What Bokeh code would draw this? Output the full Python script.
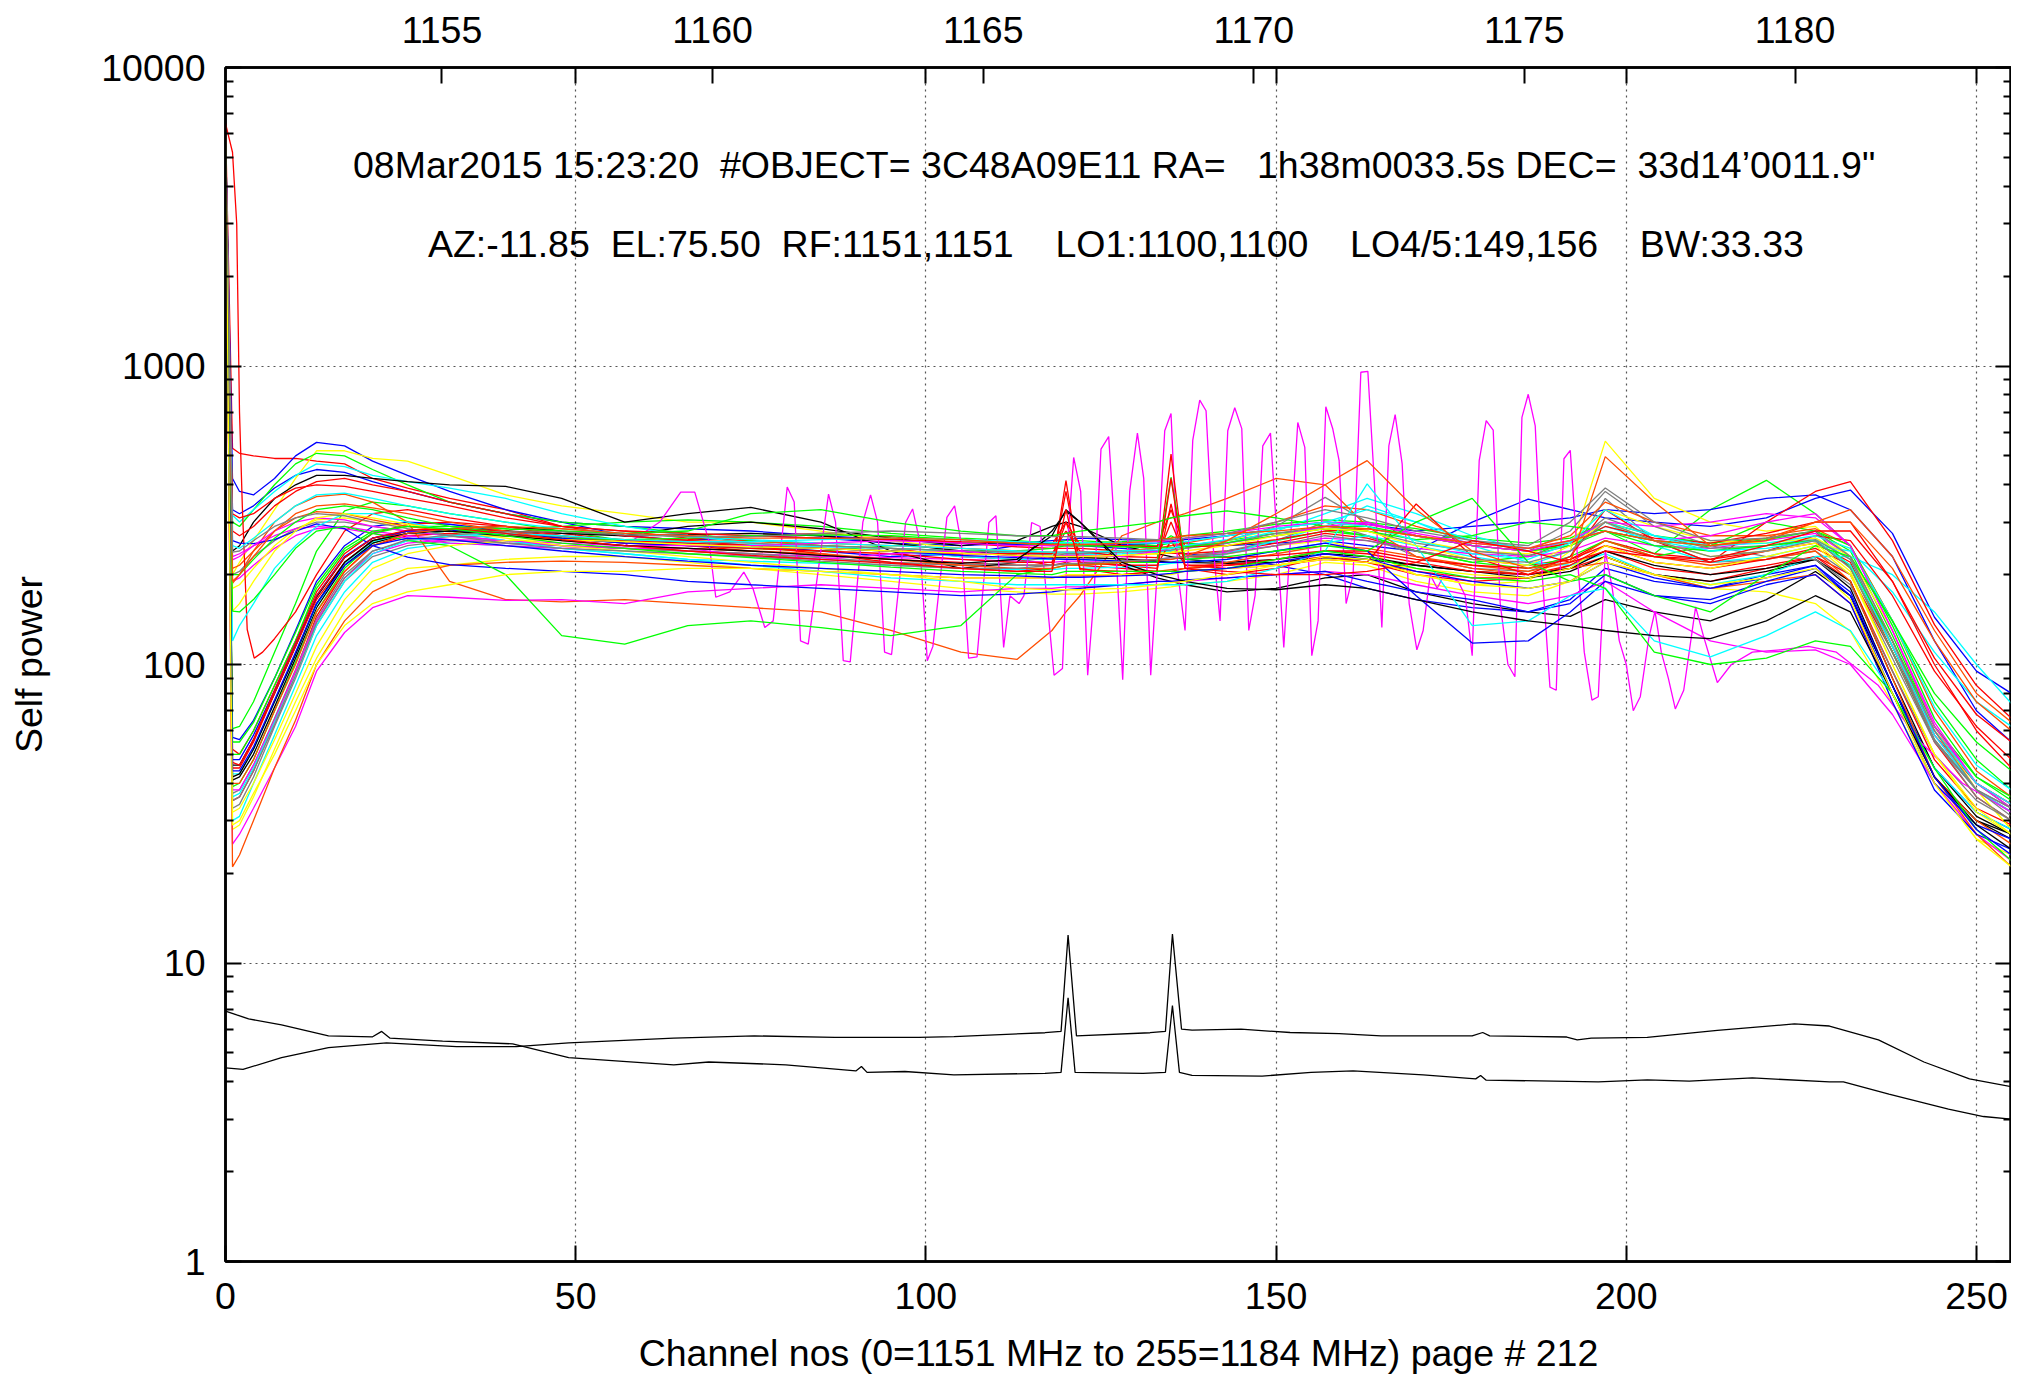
from bokeh.plotting import figure
from bokeh.models import Range1d, LinearAxis, LogAxis, FixedTicker, CustomJSTickFormatter, Label
from bokeh.embed import file_html
from bokeh.resources import INLINE

FONT = "Liberation Sans"
RED, GREEN, BLUE, MAGENTA = "#ff0000", "#00ff00", "#0000ff", "#ff00ff"
CYAN, YELLOW, BLACK, ORANGE, GRAY = "#00ffff", "#ffff00", "#000000", "#ff4d00", "#808080"

# channel sample points for the antenna spectra
CH = [0, 1, 2, 4, 7, 10, 13, 17, 21, 26, 32, 40, 48, 57, 66, 75, 85, 95, 105, 113,
      118, 120, 122, 128, 133, 135, 137, 143, 150, 157, 163, 170, 178, 186, 192,
      197, 204, 212, 220, 227, 232, 238, 244, 250, 255]

u1_red = [6500, 530, 510, 500, 490, 490, 480, 470, 420, 390, 360, 330, 290, 280, 265, 260, 250, 245, 230, 225, 215, 220, 215, 210, 205, 205, 210, 215, 220, 230, 220, 200, 190, 195, 210, 230, 200, 190, 210, 230, 200, 110, 58, 40, 34]
u2_blue = [6000, 420, 380, 370, 420, 500, 555, 540, 480, 430, 380, 330, 300, 270, 260, 250, 240, 230, 235, 250, 255, 250, 250, 245, 240, 240, 235, 230, 215, 200, 180, 165, 155, 150, 165, 210, 190, 180, 200, 215, 170, 85, 45, 32, 28]
u3_yellow = [5800, 200, 220, 260, 330, 420, 520, 520, 490, 480, 430, 370, 340, 320, 300, 300, 280, 260, 245, 240, 235, 230, 230, 225, 220, 220, 225, 235, 250, 260, 240, 200, 185, 190, 240, 560, 360, 300, 280, 290, 230, 120, 60, 38, 28]
u4_green = [5000, 300, 290, 330, 400, 470, 510, 500, 450, 400, 350, 320, 300, 290, 275, 260, 250, 245, 240, 240, 245, 250, 250, 250, 250, 270, 255, 250, 260, 280, 270, 240, 220, 210, 230, 260, 230, 250, 300, 280, 210, 110, 56, 38, 32]
u5_cyan = [6200, 316, 300, 330, 380, 430, 470, 460, 430, 410, 390, 360, 320, 290, 270, 255, 245, 240, 230, 225, 225, 225, 225, 222, 220, 220, 225, 235, 260, 290, 340, 300, 250, 220, 215, 235, 200, 185, 200, 230, 230, 200, 150, 100, 74]
u6_black = [6500, 240, 250, 300, 360, 400, 430, 430, 420, 410, 400, 395, 360, 300, 320, 336, 300, 240, 210, 220, 280, 325, 300, 215, 195, 190, 185, 175, 180, 195, 200, 175, 160, 150, 145, 165, 150, 140, 165, 205, 170, 85, 42, 30, 27]
u7_orange = [6000, 187, 200, 240, 300, 340, 365, 372, 350, 300, 190, 165, 162, 165, 160, 155, 150, 130, 110, 104, 130, 150, 170, 270, 300, 310, 320, 360, 420, 400, 290, 230, 210, 200, 210, 220, 200, 180, 190, 200, 160, 80, 42, 30, 25]
u8_gray = [6000, 200, 205, 230, 260, 285, 300, 300, 290, 280, 270, 260, 250, 245, 240, 235, 225, 220, 215, 220, 230, 235, 235, 240, 245, 250, 250, 260, 290, 363, 300, 270, 250, 240, 280, 380, 290, 250, 230, 225, 185, 95, 50, 35, 30]
u9_red = [6000, 280, 270, 290, 340, 380, 410, 420, 400, 380, 350, 320, 290, 270, 260, 250, 235, 220, 210, 205, 210, 413, 210, 200, 205, 507, 210, 200, 210, 230, 220, 345, 230, 200, 230, 330, 260, 220, 300, 380, 410, 260, 136, 85, 66]
u10_blue = [6000, 260, 255, 254, 262, 280, 296, 285, 250, 229, 216, 210, 205, 200, 190, 185, 180, 175, 170, 172, 175, 178, 180, 185, 190, 190, 192, 195, 200, 205, 190, 175, 165, 150, 160, 200, 170, 165, 190, 210, 170, 80, 40, 29, 26]
u11_magenta = [6200, 224, 230, 250, 280, 300, 310, 305, 290, 280, 270, 260, 250, 245, 245, 230, 225, 235, 240, 230, 230, 232, 232, 230, 240, 245, 250, 255, 270, 290, 300, 270, 250, 240, 260, 280, 260, 270, 300, 320, 250, 130, 62, 40, 34]
u12_cyan = [5500, 120, 135, 160, 210, 250, 290, 320, 320, 300, 280, 260, 245, 235, 225, 215, 205, 195, 190, 185, 185, 185, 185, 185, 185, 185, 185, 190, 210, 240, 403, 250, 135, 140, 170, 180, 120, 106, 125, 150, 130, 80, 45, 32, 28]
u13_yellow = [5500, 151, 160, 190, 240, 280, 310, 320, 310, 295, 280, 265, 250, 240, 230, 220, 210, 200, 195, 195, 195, 200, 200, 200, 200, 200, 205, 210, 215, 225, 220, 210, 200, 195, 210, 250, 220, 210, 230, 250, 200, 100, 50, 33, 27]
u14_green = [5200, 151, 150, 165, 200, 245, 280, 290, 275, 260, 250, 200, 125, 117, 135, 140, 133, 125, 135, 200, 210, 215, 215, 220, 220, 424, 225, 230, 240, 250, 240, 300, 360, 220, 190, 200, 170, 150, 200, 250, 230, 140, 80, 55, 44]
u15_orange = [6000, 190, 200, 230, 280, 320, 340, 345, 335, 320, 300, 280, 260, 250, 245, 240, 235, 225, 215, 210, 210, 215, 215, 220, 225, 225, 230, 260, 320, 400, 482, 330, 240, 210, 220, 497, 350, 250, 260, 300, 330, 230, 130, 80, 64]
u16_gray = [6000, 238, 240, 260, 290, 310, 320, 315, 300, 285, 270, 255, 245, 240, 235, 230, 222, 215, 210, 210, 215, 218, 218, 222, 225, 228, 230, 235, 250, 270, 260, 240, 225, 220, 240, 300, 260, 230, 240, 260, 210, 110, 56, 38, 33]

l1_green = [5500, 61, 62, 75, 110, 160, 240, 327, 350, 340, 320, 300, 280, 260, 250, 245, 240, 250, 255, 255, 255, 260, 260, 255, 250, 255, 250, 260, 275, 285, 270, 240, 220, 230, 260, 280, 235, 330, 414, 320, 250, 140, 75, 48, 38]
l2_blue = [6000, 57, 56, 65, 90, 130, 190, 250, 290, 300, 295, 280, 265, 255, 260, 270, 265, 255, 250, 255, 260, 262, 265, 262, 260, 258, 255, 250, 255, 260, 250, 240, 300, 358, 330, 310, 300, 290, 310, 360, 384, 275, 144, 95, 80]
l3_red = [6000, 52, 50, 60, 85, 120, 175, 235, 275, 295, 300, 290, 275, 260, 250, 240, 232, 225, 220, 215, 215, 380, 220, 215, 210, 345, 215, 210, 215, 225, 220, 205, 195, 195, 215, 240, 210, 200, 215, 230, 190, 95, 48, 33, 29]
l4_black = [6000, 41, 42, 50, 72, 105, 155, 215, 255, 275, 285, 290, 280, 270, 290, 300, 285, 265, 250, 260, 290, 300, 290, 250, 235, 230, 225, 220, 225, 235, 230, 215, 205, 195, 205, 230, 200, 190, 205, 225, 180, 85, 42, 30, 26]
l5_gray = [6000, 33, 34, 42, 62, 90, 135, 190, 230, 250, 260, 255, 250, 245, 240, 235, 228, 220, 215, 215, 215, 217, 217, 220, 222, 225, 230, 240, 260, 300, 270, 230, 210, 205, 230, 360, 260, 220, 225, 240, 200, 105, 55, 38, 33]
l6_cyan = [6000, 30, 31, 40, 58, 85, 125, 175, 220, 245, 255, 250, 245, 235, 225, 222, 218, 215, 210, 208, 208, 210, 210, 212, 215, 218, 220, 225, 240, 255, 270, 250, 230, 215, 240, 300, 250, 220, 230, 250, 240, 175, 110, 75, 62]
l7_yellow = [6000, 28, 29, 36, 52, 75, 105, 150, 190, 210, 215, 225, 230, 230, 220, 210, 200, 190, 180, 175, 172, 172, 172, 175, 180, 182, 185, 190, 200, 220, 215, 190, 175, 170, 190, 230, 200, 180, 175, 160, 129, 74, 40, 26, 23]
l8_magenta = [6000, 25, 27, 33, 45, 62, 95, 128, 155, 170, 168, 164, 165, 160, 175, 180, 185, 180, 175, 180, 180, 182, 182, 185, 190, 190, 190, 195, 200, 205, 200, 185, 170, 160, 170, 190, 150, 120, 110, 112, 100, 68, 40, 27, 22]
l9_orange = [6000, 21, 23, 30, 45, 65, 100, 140, 175, 200, 215, 220, 222, 220, 215, 210, 205, 200, 195, 195, 195, 198, 198, 200, 205, 208, 210, 220, 235, 250, 245, 230, 215, 205, 220, 260, 230, 215, 225, 240, 190, 90, 42, 27, 21]
l10_red = [6000, 45, 45, 55, 80, 115, 165, 220, 260, 280, 285, 280, 270, 260, 255, 250, 245, 240, 235, 235, 235, 280, 240, 230, 228, 300, 230, 228, 232, 240, 240, 225, 215, 210, 225, 250, 230, 220, 240, 270, 260, 170, 95, 62, 48]
l11_green = [5800, 50, 50, 60, 85, 120, 180, 240, 275, 290, 290, 285, 280, 275, 280, 320, 330, 300, 280, 270, 270, 275, 280, 290, 300, 310, 315, 327, 310, 290, 290, 270, 250, 240, 250, 280, 250, 240, 250, 260, 215, 120, 62, 42, 36]
l12_blue = [6000, 48, 48, 58, 82, 118, 170, 230, 265, 280, 282, 275, 265, 255, 250, 248, 245, 240, 232, 228, 226, 225, 225, 222, 220, 220, 220, 225, 240, 255, 240, 170, 118, 120, 150, 190, 170, 160, 185, 200, 160, 75, 38, 27, 24]
l13_magenta = [6000, 38, 38, 46, 65, 95, 140, 195, 235, 255, 262, 260, 255, 250, 250, 250, 255, 260, 255, 250, 250, 252, 252, 255, 258, 260, 265, 275, 290, 300, 295, 275, 255, 245, 260, 300, 290, 300, 320, 310, 250, 130, 64, 40, 33]
l14_cyan = [6000, 36, 37, 45, 64, 92, 135, 190, 235, 260, 270, 275, 270, 262, 258, 258, 262, 265, 262, 258, 256, 256, 256, 255, 255, 255, 258, 270, 285, 300, 290, 260, 235, 225, 255, 330, 270, 240, 245, 260, 215, 115, 60, 40, 34]
l15_yellow = [6000, 32, 33, 40, 56, 80, 115, 165, 210, 235, 250, 260, 262, 258, 252, 248, 245, 240, 236, 232, 230, 230, 230, 232, 235, 237, 240, 250, 270, 285, 280, 250, 225, 215, 250, 300, 260, 230, 240, 255, 205, 100, 50, 32, 27]
l16_black = [6000, 42, 43, 52, 75, 108, 160, 220, 260, 275, 280, 270, 260, 250, 245, 240, 232, 225, 218, 225, 270, 330, 300, 220, 200, 195, 190, 180, 178, 185, 180, 165, 150, 140, 135, 130, 125, 122, 140, 170, 150, 80, 42, 29, 24]
l17_orange = [6000, 40, 40, 48, 70, 100, 150, 205, 250, 275, 285, 290, 285, 275, 270, 265, 265, 265, 262, 255, 252, 252, 252, 255, 260, 265, 270, 275, 280, 290, 285, 270, 255, 245, 260, 280, 260, 250, 265, 300, 300, 210, 120, 75, 60]
l18_gray = [6000, 35, 36, 44, 63, 92, 138, 195, 240, 262, 272, 278, 278, 272, 268, 268, 275, 280, 275, 270, 268, 268, 268, 265, 262, 262, 265, 275, 300, 330, 310, 280, 260, 250, 300, 390, 300, 260, 265, 280, 230, 120, 60, 38, 31]
l19_red = [6000, 47, 46, 56, 82, 118, 170, 228, 265, 282, 285, 275, 262, 250, 240, 232, 225, 218, 210, 205, 205, 330, 208, 205, 205, 420, 210, 205, 200, 200, 205, 220, 260, 240, 220, 240, 230, 225, 250, 280, 280, 190, 105, 68, 55]
l20_green = [5800, 55, 55, 64, 90, 128, 185, 245, 280, 290, 285, 270, 255, 245, 235, 228, 220, 212, 205, 202, 200, 205, 205, 205, 205, 205, 205, 210, 225, 240, 230, 210, 195, 190, 200, 180, 110, 100, 105, 120, 115, 80, 45, 28, 22]
l21_blue = [6000, 44, 44, 53, 76, 110, 160, 215, 250, 265, 262, 250, 240, 230, 222, 215, 210, 205, 200, 198, 196, 196, 196, 198, 200, 202, 205, 210, 220, 235, 225, 205, 190, 180, 190, 220, 195, 180, 195, 215, 175, 85, 42, 28, 23]
l22_yellow = [6000, 29, 30, 37, 50, 70, 100, 135, 160, 175, 185, 200, 205, 205, 210, 210, 205, 200, 190, 180, 178, 178, 178, 180, 185, 188, 190, 200, 215, 230, 225, 200, 185, 180, 190, 220, 200, 185, 195, 210, 165, 80, 40, 26, 21]

n1_red = [6000, 35, 36, 44, 65, 95, 145, 205, 250, 270, 275, 270, 262, 258, 262, 270, 275, 268, 255, 248, 245, 245, 245, 240, 236, 236, 235, 240, 255, 275, 265, 240, 225, 215, 225, 260, 235, 225, 240, 255, 220, 110, 55, 36, 30]
n2_green = [5600, 39, 40, 48, 70, 102, 150, 210, 255, 275, 280, 282, 290, 300, 305, 300, 290, 275, 265, 260, 255, 255, 255, 258, 262, 265, 270, 280, 295, 305, 300, 285, 265, 255, 265, 300, 270, 255, 265, 280, 240, 125, 62, 40, 33]
n3_blue = [6000, 330, 320, 340, 390, 430, 450, 440, 410, 380, 350, 320, 300, 290, 285, 280, 270, 262, 255, 252, 250, 250, 250, 252, 255, 258, 262, 270, 285, 300, 295, 280, 290, 300, 310, 330, 320, 330, 360, 370, 330, 230, 120, 70, 55]
n4_magenta = [6000, 190, 195, 215, 245, 270, 285, 290, 280, 270, 262, 255, 250, 245, 240, 235, 230, 228, 225, 222, 220, 222, 222, 222, 225, 228, 230, 238, 250, 265, 260, 245, 235, 230, 240, 265, 250, 245, 260, 275, 230, 120, 58, 38, 32]
n5_cyan = [6000, 43, 43, 52, 75, 108, 158, 218, 258, 275, 280, 275, 265, 258, 255, 252, 248, 245, 240, 236, 233, 233, 233, 235, 238, 240, 245, 255, 280, 320, 360, 320, 270, 240, 250, 290, 260, 240, 250, 265, 225, 115, 58, 38, 32]
n6_yellow = [6000, 180, 185, 210, 250, 285, 305, 310, 300, 290, 280, 270, 262, 258, 252, 248, 245, 240, 236, 232, 230, 230, 230, 232, 235, 238, 245, 260, 285, 300, 290, 260, 240, 235, 260, 330, 290, 260, 255, 265, 230, 130, 62, 38, 28]
n7_black = [6000, 46, 46, 56, 80, 115, 168, 228, 265, 280, 285, 280, 275, 270, 272, 275, 270, 255, 240, 232, 228, 228, 228, 226, 222, 220, 220, 218, 220, 228, 225, 215, 205, 200, 210, 240, 215, 200, 210, 225, 190, 90, 45, 31, 27]
n8_orange = [6000, 210, 215, 240, 280, 310, 325, 320, 305, 290, 280, 272, 265, 262, 260, 258, 255, 250, 245, 240, 238, 238, 238, 240, 245, 250, 255, 270, 300, 340, 330, 290, 260, 245, 270, 350, 300, 270, 270, 285, 250, 140, 70, 44, 36]
n9_gray = [6000, 37, 38, 46, 66, 96, 142, 200, 240, 260, 268, 270, 268, 262, 258, 255, 250, 245, 240, 238, 236, 236, 236, 238, 240, 242, 245, 255, 275, 290, 280, 255, 240, 232, 250, 310, 270, 245, 250, 262, 225, 115, 56, 36, 30]
n10_red = [6000, 320, 310, 320, 360, 390, 400, 395, 380, 360, 340, 310, 290, 280, 275, 270, 265, 262, 258, 255, 252, 300, 252, 250, 248, 330, 248, 250, 262, 280, 285, 270, 250, 240, 255, 290, 265, 255, 275, 300, 300, 190, 100, 60, 45]
n11_green = [5400, 200, 200, 225, 265, 300, 330, 340, 330, 310, 290, 275, 265, 262, 265, 270, 272, 270, 262, 255, 250, 250, 250, 248, 246, 246, 248, 256, 270, 285, 280, 262, 270, 300, 290, 280, 260, 250, 262, 280, 250, 135, 66, 42, 35]
n12_cyan = [6000, 250, 245, 265, 300, 340, 370, 375, 360, 340, 320, 300, 285, 275, 268, 262, 255, 250, 245, 240, 238, 238, 238, 240, 242, 245, 250, 262, 285, 300, 330, 300, 260, 245, 258, 300, 270, 250, 255, 270, 245, 140, 72, 46, 38]

# red antenna with a slow fall-off at the band edge, as (channel, power)
edge_red = [(0, 6500), (1, 5200), (1.6, 3000), (2, 700), (2.4, 340), (3.1, 131), (4.1, 105), (5.3, 110), (7, 122), (10, 150), (13, 200), (17, 280), (21, 320), (26, 330), (32, 310), (40, 290), (48, 270), (57, 255), (66, 250), (75, 245), (85, 240), (95, 235), (105, 225), (113, 220), (118, 220), (120, 300), (122, 220), (128, 215), (133, 215), (135, 260), (137, 215), (143, 215), (150, 225), (157, 240), (163, 235), (170, 220), (178, 205), (186, 200), (192, 215), (197, 250), (204, 220), (212, 210), (220, 225), (227, 245), (232, 215), (238, 115), (244, 60), (250, 40), (255, 34)]

# interference-hit antenna (magenta, spiky) as (channel, power)
spiky_magenta = [(0, 6000), (1, 230), (2, 235), (4, 250), (7, 270), (10, 285), (13, 290), (17, 285), (21, 275), (26, 265), (32, 255), (40, 250), (48, 245), (57, 250), (62, 300), (65, 378), (67, 378), (69, 260), (70, 168), (72, 175), (74, 204), (75.3, 180), (77, 133), (78.2, 140), (80.2, 393), (81.2, 350), (82.1, 120), (83.2, 117), (86.1, 372), (87.1, 300), (88.2, 103), (89.2, 102), (91, 300), (92.1, 370), (93.1, 300), (94.1, 110), (95.1, 108), (97.1, 299), (98.1, 332), (99.1, 260), (100.2, 103), (101, 115), (103, 311), (104.1, 340), (105.1, 250), (106.1, 105), (107.3, 106), (109, 299), (110, 315), (111.1, 114), (112, 170), (113.3, 160), (114, 170), (115.1, 299), (116.3, 290), (118.3, 92), (119.5, 97), (120.2, 250), (121.1, 494), (122.1, 380), (123.1, 92), (124, 170), (125, 527), (126.1, 580), (127.1, 250), (128.1, 89), (129.1, 380), (130.2, 596), (131.1, 420), (132.1, 92), (133, 200), (134.1, 607), (135, 693), (136, 200), (137, 130), (138.1, 563), (139.1, 769), (140, 708), (141, 250), (142, 140), (143.1, 607), (144.1, 725), (145.1, 617), (146.1, 130), (147, 170), (148.1, 540), (149.2, 596), (150.2, 250), (151.1, 114), (152, 250), (153.1, 647), (154.1, 534), (155.1, 107), (156, 140), (157.1, 730), (158.1, 615), (159, 482), (160, 160), (161, 200), (162.1, 953), (163.1, 960), (164, 420), (165.1, 133), (166.1, 540), (167, 687), (168, 470), (169, 160), (170.1, 112), (171, 130), (172, 200), (173, 180), (174, 200), (176, 190), (177, 170), (178, 107), (179, 482), (180, 656), (181, 610), (182, 160), (183.1, 100), (184.1, 91), (185.1, 673), (186, 804), (187, 630), (188, 200), (189.1, 84), (190, 82), (191.1, 489), (192, 522), (193.2, 200), (194, 110), (195.1, 76), (196, 78), (197, 240), (198, 180), (199, 120), (200, 100), (201, 70), (202, 78), (203.2, 122), (204.1, 151), (205, 110), (206, 90), (207, 71), (208.2, 82), (209.9, 156), (211, 125), (213, 87), (215, 100), (218, 110), (222, 112), (226, 115), (230, 110), (236, 85), (242, 55), (248, 40), (255, 32)]

# the two low-power reference traces (black) as (channel, power)
low_trace_a = [(0, 6.9), (1.6, 6.7), (3.3, 6.5), (8, 6.2), (14.7, 5.7), (21, 5.66), (22.3, 5.9), (23.5, 5.6), (31, 5.47), (41, 5.36), (49, 4.82), (64, 4.56), (69, 4.66), (80, 4.56), (90, 4.35), (90.8, 4.5), (91.6, 4.3), (97, 4.33), (104, 4.22), (117, 4.27), (119.3, 4.3), (120.3, 7.65), (121.3, 4.3), (131, 4.27), (134.2, 4.3), (135.2, 7.2), (136.2, 4.3), (138, 4.2), (148, 4.18), (155, 4.3), (161, 4.35), (171, 4.22), (178.5, 4.09), (179.2, 4.2), (180, 4.05), (196, 4.0), (203, 4.06), (209, 4.02), (218, 4.12), (229, 4.0), (231, 4.0), (237.5, 3.64), (246, 3.24), (251, 3.06), (255, 3.0)]
low_trace_b = [(0, 4.45), (2.5, 4.4), (8, 4.82), (14.7, 5.21), (23, 5.4), (33, 5.25), (41.5, 5.25), (49, 5.4), (64, 5.6), (75.5, 5.7), (87, 5.63), (99, 5.63), (104, 5.67), (117, 5.84), (119.3, 5.9), (120.3, 12.4), (121.5, 5.7), (132, 5.84), (134.2, 5.9), (135.2, 12.5), (136.5, 6.0), (138, 5.96), (145, 6.0), (152, 5.85), (159, 5.8), (165, 5.7), (178, 5.7), (179.5, 5.85), (180.5, 5.7), (191.5, 5.65), (193, 5.53), (195, 5.6), (203, 5.63), (213, 5.95), (224, 6.25), (229, 6.15), (236, 5.53), (242.5, 4.66), (249, 4.09), (255, 3.85)]

X_TICKS = [0, 50, 100, 150, 200, 250]
F_TICKS = [1155, 1160, 1165, 1170, 1175, 1180]
Y_TICKS = [1, 10, 100, 1000, 10000]
F_START, F_END = 1151, 1184
TITLE_1 = "08Mar2015 15:23:20\u00a0\u00a0#OBJECT= 3C48A09E11 RA=\u00a0\u00a0\u00a01h38m0033.5s DEC=\u00a0\u00a033d14\u20190011.9\""
TITLE_2 = "AZ:-11.85\u00a0\u00a0EL:75.50\u00a0\u00a0RF:1151,1151\u00a0\u00a0\u00a0\u00a0LO1:1100,1100\u00a0\u00a0\u00a0\u00a0LO4/5:149,156\u00a0\u00a0\u00a0\u00a0BW:33.33"
X_LABEL = "Channel nos (0=1151 MHz to 255=1184 MHz) page # 212"
Y_LABEL = "Self power"

SERIES = [
    (l1_green, GREEN), (u1_red, RED), (n3_blue, BLUE), (l2_blue, BLUE), (u2_blue, BLUE),
    (n1_red, RED), (l3_red, RED), (u3_yellow, YELLOW), (n2_green, GREEN), (l4_black, BLACK),
    (u4_green, GREEN), (n4_magenta, MAGENTA), (l5_gray, GRAY), (u5_cyan, CYAN),
    (n5_cyan, CYAN), (l6_cyan, CYAN), (u6_black, BLACK), (n6_yellow, YELLOW),
    (l7_yellow, YELLOW), (u7_orange, ORANGE), (n7_black, BLACK), (l8_magenta, MAGENTA),
    (u8_gray, GRAY), (n8_orange, ORANGE), (l9_orange, ORANGE), (u9_red, RED),
    (n9_gray, GRAY), (l10_red, RED), (u10_blue, BLUE), (n10_red, RED), (l11_green, GREEN),
    (u11_magenta, MAGENTA), (n11_green, GREEN), (l12_blue, BLUE), (u12_cyan, CYAN),
    (n12_cyan, CYAN), (l13_magenta, MAGENTA), (u13_yellow, YELLOW), (l14_cyan, CYAN),
    (u14_green, GREEN), (l15_yellow, YELLOW), (u15_orange, ORANGE), (l16_black, BLACK),
    (u16_gray, GRAY), (l17_orange, ORANGE), (l18_gray, GRAY), (l19_red, RED),
    (l20_green, GREEN), (l21_blue, BLUE), (l22_yellow, YELLOW),
]
for vals, _c in SERIES:
    assert len(vals) == len(CH), (len(vals), _c)

TS = "37.5px"
p = figure(frame_width=1786, frame_height=1194, x_range=Range1d(0, 255), y_range=Range1d(1, 10000),
           y_axis_type="log", output_backend="svg", toolbar_location=None,
           min_border_left=225, min_border_top=67, min_border_right=0, min_border_bottom=0,
           background_fill_color="white", border_fill_color="white")
p.outline_line_color = "black"
p.outline_line_width = 2.5

xa = p.xaxis[0]
xa.ticker = FixedTicker(ticks=X_TICKS)
ya = p.yaxis[0]
MINOR_Y = [m * d for d in Y_TICKS[:-1] for m in range(2, 10)]
ya.ticker = FixedTicker(ticks=Y_TICKS, minor_ticks=MINOR_Y)
ya.formatter = CustomJSTickFormatter(code="return tick.toFixed(0);")
for ax in (xa, ya):
    ax.major_tick_in = 16
    ax.major_tick_out = 0
    ax.minor_tick_in = 8
    ax.minor_tick_out = 0
    ax.axis_line_width = 2.5
    ax.major_tick_line_width = 2
    ax.minor_tick_line_width = 2
    ax.major_label_text_font = FONT
    ax.major_label_text_font_size = TS
    ax.major_label_text_color = "black"
    ax.axis_label_text_font = FONT
    ax.axis_label_text_font_size = TS
    ax.axis_label_text_font_style = "normal"
    ax.axis_label_text_color = "black"
xa.minor_tick_line_color = None
xa.major_label_standoff = 21
xa.axis_label = X_LABEL
xa.axis_label_standoff = 20
ya.major_label_standoff = 20
ya.axis_label = Y_LABEL
ya.axis_label_standoff = 48

p.extra_x_ranges = {"freq": Range1d(F_START, F_END)}
mirror = [F_START + c * (F_END - F_START) / 255 for c in X_TICKS[1:]]
top = LinearAxis(x_range_name="freq", ticker=FixedTicker(ticks=F_TICKS, minor_ticks=mirror),
                 major_tick_in=16, major_tick_out=0, minor_tick_in=16, minor_tick_out=0,
                 axis_line_width=2.5, major_tick_line_width=2, minor_tick_line_width=2,
                 major_label_text_font=FONT, major_label_text_font_size=TS,
                 major_label_text_color="black", major_label_standoff=25)
p.add_layout(top, "above")

right = LogAxis(ticker=FixedTicker(ticks=Y_TICKS, minor_ticks=MINOR_Y),
                major_tick_in=16, major_tick_out=0, minor_tick_in=8, minor_tick_out=0,
                axis_line_width=2.5, major_tick_line_width=2, minor_tick_line_width=2,
                formatter=CustomJSTickFormatter(code="return '';"),
                major_label_text_font_size="0px", major_label_standoff=0)
p.add_layout(right, "right")

p.xgrid.ticker = FixedTicker(ticks=X_TICKS[1:])
p.ygrid.ticker = FixedTicker(ticks=Y_TICKS[1:-1])
for g in (p.xgrid, p.ygrid):
    g.grid_line_color = "#555555"
    g.grid_line_dash = "2 4"
    g.grid_line_width = 1.2

half = len(SERIES) // 2
for vals, col in SERIES[:half]:
    p.line(CH, vals, line_color=col, line_width=1.3)
ex, ey = zip(*edge_red)
p.line(list(ex), list(ey), line_color=RED, line_width=1.3)
sx, sy = zip(*spiky_magenta)
p.line(list(sx), list(sy), line_color=MAGENTA, line_width=1.3)
for vals, col in SERIES[half:]:
    p.line(CH, vals, line_color=col, line_width=1.3)
for trace in (low_trace_a, low_trace_b):
    tx, ty = zip(*trace)
    p.line(list(tx), list(ty), line_color=BLACK, line_width=1.3)

p.add_layout(Label(x=18.2, y=4700, text=TITLE_1, text_font=FONT, text_font_size=TS,
                   text_baseline="middle", text_align="left", text_color="black"))
p.add_layout(Label(x=28.9, y=2553, text=TITLE_2, text_font=FONT, text_font_size=TS,
                   text_baseline="middle", text_align="left", text_color="black"))

open("out.html", "w").write(file_html(p, INLINE))
